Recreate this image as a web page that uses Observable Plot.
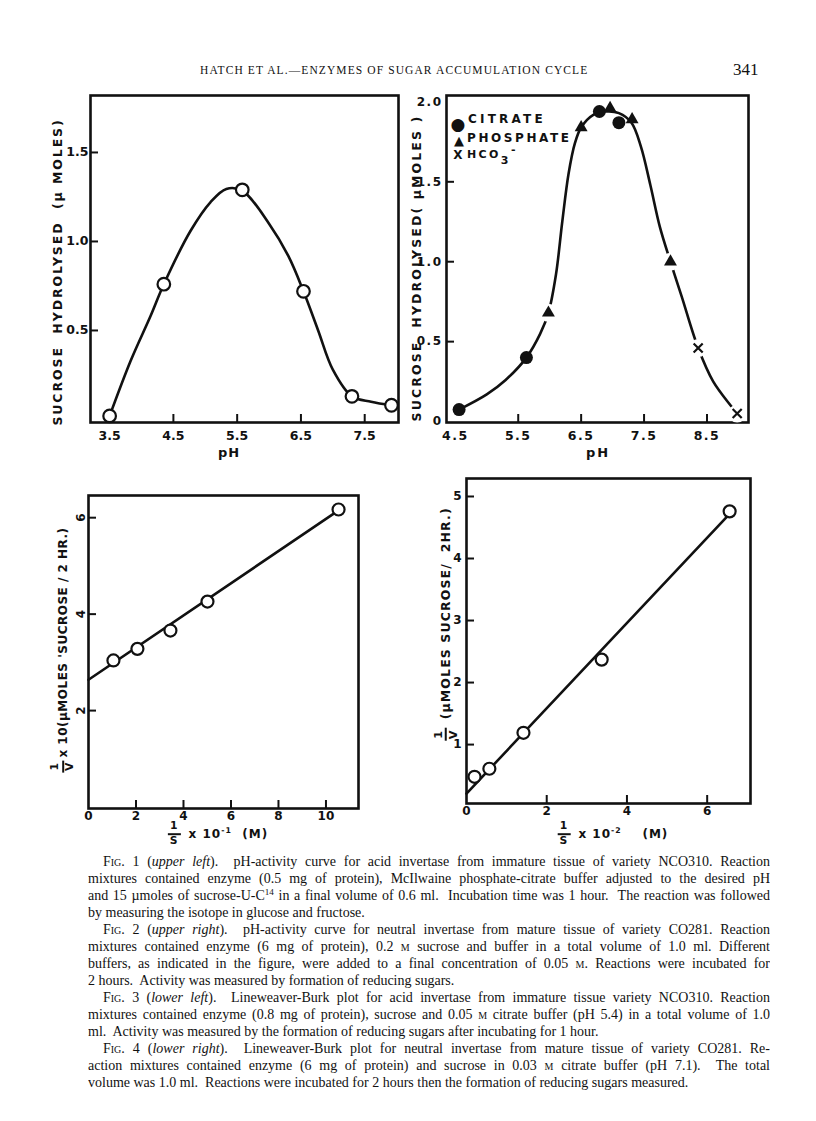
<!DOCTYPE html>
<html><head><meta charset="utf-8">
<script src="https://cdn.jsdelivr.net/npm/d3@7"></script>
<script src="https://cdn.jsdelivr.net/npm/@observablehq/plot@0.6"></script>
<style>
html,body{margin:0;padding:0;background:#fff;}
#page{position:relative;width:816px;height:1121px;overflow:hidden;background:#fff;font-family:"Liberation Serif","DejaVu Serif",serif;color:#111;}
.abs{position:absolute;}
.panel svg{display:block;max-width:none;background:transparent;overflow:visible;}
.lab{font-family:"DejaVu Sans",sans-serif;font-weight:bold;white-space:nowrap;color:#111;z-index:2;line-height:1;}
.ctr{transform:translate(-50%,-50%);}
.rot{transform:translate(-50%,-50%) rotate(-90deg);}
.frac{display:inline-flex;flex-direction:column;align-items:center;vertical-align:middle;line-height:1;font-size:0.9em;margin-right:3px;}
.frac .num{border-bottom:2px solid #111;padding:0 2px 1px 2px;}
.frac .den{padding-top:1px;}
.cap{position:absolute;left:88px;width:682px;font-size:14px;line-height:17px;}
.cap div{height:17px;overflow:hidden;text-align:justify;text-align-last:justify;}
.cap div.ind{padding-left:15px;}
.cap div.end{text-align-last:left;}
.sc{font-variant:small-caps;}
sup{font-size:0.65em;line-height:0;vertical-align:0.55em;}
</style>
</head><body>
<div id="page">
  <div class="abs" style="left:200px;top:64px;font-size:11.5px;letter-spacing:1.1px;">HATCH ET AL.—ENZYMES OF SUGAR ACCUMULATION CYCLE</div>
  <div class="abs" style="left:733px;top:60px;font-size:17px;">341</div>

  <div id="fig1" class="abs panel"></div>
  <div id="fig2" class="abs panel"></div>
  <div id="fig3" class="abs panel"></div>
  <div id="fig4" class="abs panel"></div>

  <!-- Fig 1 titles -->
  <div class="abs lab rot" style="left:58px;top:272px;font-size:12.5px;letter-spacing:1.9px;">SUCROSE&nbsp;&nbsp;HYDROLYSED&nbsp;&nbsp;(µ MOLES)</div>
  <div class="abs lab ctr" style="left:229px;top:452px;font-size:13px;letter-spacing:1px;">pH</div>

  <!-- Fig 2 titles + legend -->
  <div class="abs lab rot" style="left:417px;top:268px;font-size:12.5px;letter-spacing:2.1px;">SUCROSE&nbsp; HYDROLYSED( µMOLES )</div>
  <div class="abs lab ctr" style="left:598px;top:452px;font-size:13px;letter-spacing:2px;">pH</div>
  <div class="abs lab ctr" style="left:458px;top:124px;font-size:17px;">●</div>
  <div class="abs lab" style="left:468px;top:113px;font-size:12px;letter-spacing:3.2px;">CITRATE</div>
  <div class="abs lab ctr" style="left:459px;top:140px;font-size:13px;">▲</div>
  <div class="abs lab" style="left:467px;top:132px;font-size:12px;letter-spacing:2.6px;">PHOSPHATE</div>
  <div class="abs lab ctr" style="left:458px;top:155px;font-size:12px;">X</div>
  <div class="abs lab" style="left:467px;top:149px;font-size:11px;letter-spacing:2.4px;">HCO<span style="position:relative;top:6px;">3</span><span style="position:relative;top:-5px;">-</span></div>

  <!-- Fig 3 titles -->
  <div class="abs lab rot" style="left:63px;top:650px;font-size:12px;letter-spacing:0.5px;"><span class="frac"><span class="num">1</span><span class="den">V</span></span>x 10(µMOLES 'SUCROSE / 2 HR.)</div>
  <div class="abs lab ctr" style="left:218px;top:834px;font-size:12px;letter-spacing:1px;"><span class="frac"><span class="num">1</span><span class="den">S</span></span> x 10<sup>-1</sup> &nbsp;(M)</div>

  <!-- Fig 4 titles -->
  <div class="abs lab rot" style="left:446px;top:624px;font-size:12.5px;letter-spacing:1.1px;"><span class="frac"><span class="num">1</span><span class="den">V</span></span>&nbsp;(µMOLES SUCROSE/&nbsp; 2HR.)</div>
  <div class="abs lab ctr" style="left:613px;top:834px;font-size:12px;letter-spacing:1px;"><span class="frac"><span class="num">1</span><span class="den">S</span></span> x 10<sup>-2</sup> &nbsp;&nbsp;&nbsp;(M)</div>

  <div class="cap" style="top:853px;">
    <div class="ind"><span class="sc">Fig.</span> 1 (<i>upper left</i>).&nbsp; pH-activity curve for acid invertase from immature tissue of variety NCO310. Reaction</div>
    <div>mixtures contained enzyme (0.5 mg of protein), McIlwaine phosphate-citrate buffer adjusted to the desired pH</div>
    <div>and 15 µmoles of sucrose-U-C<sup>14</sup> in a final volume of 0.6 ml.&nbsp; Incubation time was 1 hour.&nbsp; The reaction was followed</div>
    <div class="end">by measuring the isotope in glucose and fructose.</div>
    <div class="ind"><span class="sc">Fig.</span> 2 (<i>upper right</i>).&nbsp; pH-activity curve for neutral invertase from mature tissue of variety CO281. Reaction</div>
    <div>mixtures contained enzyme (6 mg of protein), 0.2 <span class="sc">m</span> sucrose and buffer in a total volume of 1.0 ml. Different</div>
    <div>buffers, as indicated in the figure, were added to a final concentration of 0.05 <span class="sc">m</span>. Reactions were incubated for</div>
    <div class="end">2 hours.&nbsp; Activity was measured by formation of reducing sugars.</div>
    <div class="ind"><span class="sc">Fig.</span> 3 (<i>lower left</i>).&nbsp; Lineweaver-Burk plot for acid invertase from immature tissue variety NCO310. Reaction</div>
    <div>mixtures contained enzyme (0.8 mg of protein), sucrose and 0.05 <span class="sc">m</span> citrate buffer (pH 5.4) in a total volume of 1.0</div>
    <div class="end">ml.&nbsp; Activity was measured by the formation of reducing sugars after incubating for 1 hour.</div>
    <div class="ind"><span class="sc">Fig.</span> 4 (<i>lower right</i>).&nbsp; Lineweaver-Burk plot for neutral invertase from mature tissue of variety CO281. Re-</div>
    <div>action mixtures contained enzyme (6 mg of protein) and sucrose in 0.03 <span class="sc">m</span> citrate buffer (pH 7.1).&nbsp; The total</div>
    <div class="end">volume was 1.0 ml.&nbsp; Reactions were incubated for 2 hours then the formation of reducing sugars measured.</div>
  </div>
</div>

<script>
// ---------- data ----------
// Fig. 1: acid invertase pH-activity
const fig1PH = [3.5, 4.35, 5.58, 6.54, 7.3, 7.92];
const fig1Hydrolysed = [0.02, 0.76, 1.29, 0.72, 0.13, 0.08];
const fig1CurvePH = [3.5, 3.83, 4.14, 4.35, 4.77, 5.08, 5.33, 5.58, 6.0, 6.3, 6.54, 6.77, 7.0, 7.3, 7.6, 7.92];
const fig1CurveVal = [0.02, 0.33, 0.58, 0.76, 1.06, 1.22, 1.295, 1.285, 1.1, 0.92, 0.72, 0.5, 0.28, 0.13, 0.1, 0.08];
const fig1XTicks = [3.5, 4.5, 5.5, 6.5, 7.5];
const fig1YTicks = [0.5, 1.0, 1.5];

// Fig. 2: neutral invertase pH-activity, three buffers
const fig2CitratePH = [4.56, 5.63, 6.79, 7.1];
const fig2CitrateVal = [0.075, 0.40, 1.94, 1.87];
const fig2PhosphatePH = [5.98, 6.5, 6.96, 7.31, 7.92];
const fig2PhosphateVal = [0.68, 1.84, 1.96, 1.89, 1.0];
const fig2BicarbPH = [8.36, 8.98];
const fig2BicarbVal = [0.46, 0.05];
const fig2CurvePH = [4.56, 5.0, 5.3, 5.63, 5.85, 5.98, 6.1, 6.2, 6.3, 6.4, 6.5, 6.7, 6.9, 7.1, 7.3, 7.45, 7.6, 7.75, 7.92, 8.1, 8.36, 8.6, 8.98];
const fig2CurveVal = [0.075, 0.17, 0.26, 0.40, 0.55, 0.68, 0.92, 1.25, 1.55, 1.74, 1.84, 1.92, 1.94, 1.93, 1.87, 1.72, 1.48, 1.22, 1.0, 0.78, 0.46, 0.25, 0.05];
const fig2XTicks = [4.5, 5.5, 6.5, 7.5, 8.5];
const fig2YTicks = [0, 0.5, 1.0, 1.5, 2.0];
const fig2YLabels = ["0", "0.5", "1.0", "1.5", "2.0"];

// Fig. 3: Lineweaver-Burk, acid invertase
const fig3InvS = [1.05, 2.06, 3.45, 5.01, 10.53];
const fig3InvV = [3.04, 3.28, 3.66, 4.26, 6.17];
const fig3LineX = [0, 10.53];
const fig3LineY = [2.64, 6.15];
const fig3XTicks = [0, 2, 4, 6, 8, 10];
const fig3YTicks = [2, 4, 6];

// Fig. 4: Lineweaver-Burk, neutral invertase
const fig4InvS = [0.2, 0.57, 1.42, 3.37, 6.56];
const fig4InvV = [0.48, 0.61, 1.19, 2.37, 4.76];
const fig4LineX = [0, 6.56];
const fig4LineY = [0.21, 4.72];
const fig4XTicks = [0, 2, 4, 6];
const fig4YTicks = [1, 2, 3, 4, 5];

// ---------- helpers ----------
const ink = "#111";
const zip = (xs, ys) => xs.map((x, i) => ({x, y: ys[i]}));
const baseStyle = {fontFamily: "DejaVu Sans, sans-serif", fontWeight: "bold", fontSize: "12px", color: ink, background: "transparent", overflow: "visible"};

function panel(id, {frame, margins, xDomain, yDomain, marks, style = {}}) {
  const [fx0, fy0, fx1, fy1] = frame;
  const [mt, mr, mb, ml] = margins;
  const pw = fx1 - fx0, ph = fy1 - fy0;
  const el = document.getElementById(id);
  el.style.left = (fx0 - ml) + "px";
  el.style.top = (fy0 - mt) + "px";
  const chart = Plot.plot({
    width: pw + ml + mr, height: ph + mt + mb,
    marginTop: mt, marginRight: mr, marginBottom: mb, marginLeft: ml,
    x: {domain: xDomain, axis: null},
    y: {domain: yDomain, axis: null},
    style: {...baseStyle, ...style},
    marks: marks(pw, ph)
  });
  el.append(chart);
}

const tickMarksX = (ticks, ph) => Plot.tickX(ticks, {x: d => d, stroke: ink, strokeWidth: 2, insetTop: ph - 8});
const tickMarksY = (ticks, pw) => Plot.tickY(ticks, {y: d => d, stroke: ink, strokeWidth: 2, insetRight: pw - 8});

// ---------- Fig. 1 ----------
panel("fig1", {
  frame: [90, 95, 398, 422], margins: [6, 6, 28, 40],
  xDomain: [3.2, 8.03], yDomain: [-0.017, 1.82],
  marks: (pw, ph) => [
    tickMarksX(fig1XTicks, ph),
    tickMarksY(fig1YTicks, pw),
    Plot.frame({stroke: ink, strokeWidth: 2.6}),
    Plot.line(zip(fig1CurvePH, fig1CurveVal), {x: "x", y: "y", curve: "catmull-rom", stroke: ink, strokeWidth: 2.6}),
    Plot.dot(zip(fig1PH, fig1Hydrolysed), {x: "x", y: "y", r: 6.3, fill: "white", stroke: ink, strokeWidth: 2.2}),
    Plot.text(fig1XTicks, {x: d => d, frameAnchor: "bottom", lineAnchor: "top", dy: 9, text: d => d3.format(".1f")(d), fontSize: 12.5}),
    Plot.text(fig1YTicks, {y: d => d, frameAnchor: "left", textAnchor: "end", dx: -2, text: d => d3.format(".1f")(d), fontSize: 12.5})
  ]
});

// ---------- Fig. 2 ----------
panel("fig2", {
  frame: [446, 95, 748, 422], margins: [8, 6, 28, 34],
  xDomain: [4.36, 9.16], yDomain: [-0.006, 2.04],
  style: {letterSpacing: "1.5px"},
  marks: (pw, ph) => [
    tickMarksX(fig2XTicks.slice(1), ph),
    tickMarksY(fig2YTicks.slice(1, 4), pw),
    Plot.frame({stroke: ink, strokeWidth: 2.6}),
    Plot.line(zip(fig2CurvePH, fig2CurveVal), {x: "x", y: "y", curve: "catmull-rom", stroke: ink, strokeWidth: 2.6}),
    Plot.dot(zip(fig2PhosphatePH, fig2PhosphateVal).filter(d => d.y < 1.5), {x: "x", y: "y", r: 9, fill: "white"}),
    Plot.dot(zip(fig2BicarbPH, fig2BicarbVal), {x: "x", y: "y", r: 9, fill: "white"}),
    Plot.dot(zip(fig2CitratePH, fig2CitrateVal), {x: "x", y: "y", r: 6.5, fill: ink}),
    Plot.dot(zip(fig2PhosphatePH, fig2PhosphateVal), {x: "x", y: "y", r: 4.8, symbol: "triangle", fill: ink}),
    Plot.dot(zip(fig2BicarbPH, fig2BicarbVal), {x: "x", y: "y", r: 4.2, symbol: "times", stroke: ink, strokeWidth: 2.2}),
    Plot.text(fig2XTicks, {x: d => d, frameAnchor: "bottom", lineAnchor: "top", dy: 9, text: d => d3.format(".1f")(d), fontSize: 12.5}),
    Plot.text(fig2YTicks, {y: d => d, frameAnchor: "left", textAnchor: "end", dx: -4, text: (d, i) => fig2YLabels[i], fontSize: 12})
  ]
});

// ---------- Fig. 3 ----------
panel("fig3", {
  frame: [88, 495, 358, 808], margins: [6, 6, 24, 24],
  xDomain: [0, 11.37], yDomain: [-0.03, 6.46],
  marks: (pw, ph) => [
    tickMarksX(fig3XTicks.slice(1), ph),
    tickMarksY(fig3YTicks, pw),
    Plot.frame({stroke: ink, strokeWidth: 2.6}),
    Plot.line(zip(fig3LineX, fig3LineY), {x: "x", y: "y", stroke: ink, strokeWidth: 2.6}),
    Plot.dot(zip(fig3InvS, fig3InvV), {x: "x", y: "y", r: 6, fill: "white", stroke: ink, strokeWidth: 2.2}),
    Plot.text(fig3XTicks, {x: d => d, frameAnchor: "bottom", lineAnchor: "top", dy: 3, text: d => String(d), fontSize: 12}),
    Plot.text(fig3YTicks, {y: d => d, frameAnchor: "left", textAnchor: "middle", lineAnchor: "middle", rotate: -90, dx: -7, text: d => String(d), fontSize: 12})
  ]
});

// ---------- Fig. 4 ----------
panel("fig4", {
  frame: [466, 478, 750, 803], margins: [6, 6, 24, 20],
  xDomain: [0, 7.08], yDomain: [0.05, 5.29],
  marks: (pw, ph) => [
    tickMarksX(fig4XTicks.slice(1), ph),
    tickMarksY(fig4YTicks, pw),
    Plot.frame({stroke: ink, strokeWidth: 2.6}),
    Plot.line(zip(fig4LineX, fig4LineY), {x: "x", y: "y", stroke: ink, strokeWidth: 2.6}),
    Plot.dot(zip(fig4InvS, fig4InvV), {x: "x", y: "y", r: 6, fill: "white", stroke: ink, strokeWidth: 2.2}),
    Plot.text(fig4XTicks, {x: d => d, frameAnchor: "bottom", lineAnchor: "top", dy: 3, text: d => String(d), fontSize: 12}),
    Plot.text(fig4YTicks, {y: d => d, frameAnchor: "left", textAnchor: "end", dx: -5, text: d => String(d), fontSize: 12})
  ]
});
</script>
</body></html>
